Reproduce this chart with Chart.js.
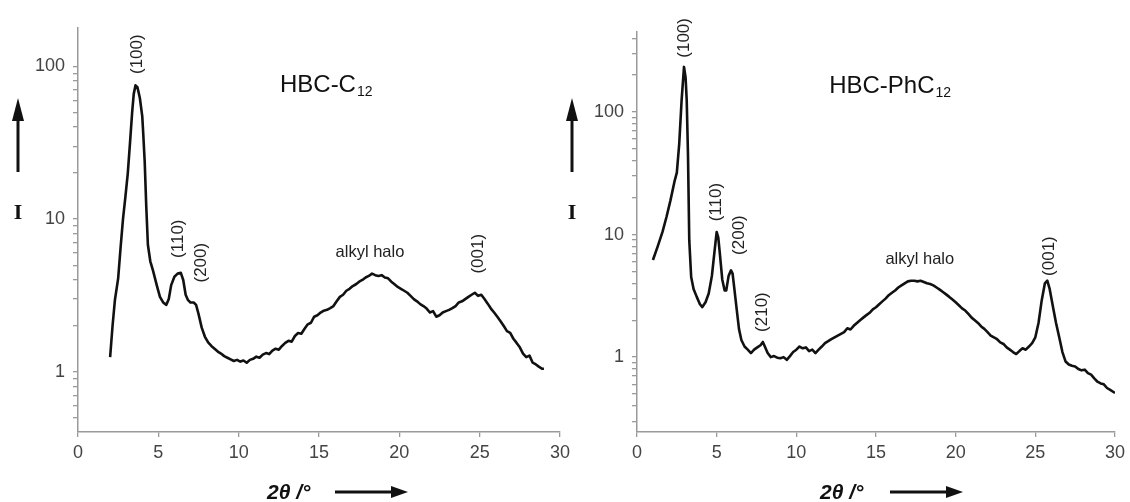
<!DOCTYPE html>
<html><head><meta charset="utf-8">
<script src="https://cdn.jsdelivr.net/npm/chart.js@4.4.1/dist/chart.umd.min.js"></script>
<style>
html,body{margin:0;padding:0;background:#fff;}
#wrap{position:relative;width:1130px;height:502px;overflow:hidden;background:#fff;}
canvas{position:absolute;top:0;}
#c1{left:0;} #c2{left:560px;}
</style></head><body>
<div id="wrap"><canvas id="c1" width="600" height="502" style="width:600px;height:502px"></canvas><canvas id="c2" width="570" height="502" style="width:570px;height:502px"></canvas></div>
<script>
// ---------- DATA ----------
const leftX = [2.0,2.15,2.3,2.5,2.65,2.8,2.95,3.1,3.25,3.37,3.47,3.58,3.7,3.85,4.0,4.05,4.15,4.25,4.35,4.5,4.67,4.9,5.1,5.3,5.5,5.65,5.8,6.0,6.2,6.4,6.55,6.7,6.85,7.0,7.2,7.35,7.5,7.7,7.9,8.1,8.3,8.5,8.7,8.9,9.1,9.3,9.5,9.7,9.9,10.1,10.3,10.5,10.7,10.9,11.1,11.3,11.5,11.7,11.9,12.1,12.3,12.5,12.7,12.9,13.1,13.3,13.5,13.7,13.9,14.1,14.3,14.5,14.7,14.9,15.1,15.3,15.5,15.7,15.9,16.1,16.3,16.5,16.7,16.9,17.1,17.3,17.5,17.7,17.9,18.1,18.3,18.5,18.7,18.9,19.1,19.3,19.5,19.7,19.9,20.1,20.3,20.5,20.7,20.9,21.1,21.3,21.5,21.7,21.9,22.1,22.3,22.5,22.7,22.9,23.1,23.3,23.5,23.7,23.9,24.1,24.3,24.5,24.7,24.9,25.1,25.3,25.5,25.7,25.9,26.1,26.3,26.5,26.7,26.9,27.1,27.3,27.5,27.7,27.9,28.1,28.3,28.5,28.7,28.9,29.0];
const leftY = [1.25,2.0,2.97,4.1,6.5,10,14,20,33,50,66,75,73,62,47,38,24,12,6.8,5.3,4.6,3.7,3.1,2.85,2.75,3.0,3.7,4.2,4.4,4.45,4.0,3.2,2.95,2.85,2.85,2.75,2.4,1.95,1.7,1.56,1.48,1.42,1.36,1.32,1.27,1.24,1.21,1.18,1.2,1.17,1.19,1.15,1.2,1.22,1.26,1.24,1.3,1.33,1.31,1.38,1.42,1.4,1.48,1.55,1.6,1.58,1.72,1.8,1.78,1.92,2.05,2.1,2.3,2.35,2.45,2.52,2.55,2.62,2.7,2.9,3.1,3.2,3.4,3.5,3.65,3.75,3.9,4.0,4.15,4.25,4.4,4.3,4.25,4.3,4.15,4.1,3.9,3.75,3.6,3.5,3.4,3.3,3.15,3.0,2.9,2.78,2.7,2.6,2.45,2.5,2.3,2.35,2.45,2.5,2.55,2.62,2.7,2.85,2.9,3.0,3.1,3.2,3.3,3.15,3.2,3.0,2.8,2.6,2.45,2.3,2.15,2.0,1.85,1.8,1.65,1.55,1.45,1.32,1.25,1.28,1.15,1.12,1.08,1.05,1.05];

const rightX = [1.0,1.3,1.6,1.85,2.1,2.35,2.5,2.65,2.8,2.95,3.05,3.12,3.2,3.28,3.4,3.55,3.75,3.95,4.1,4.3,4.5,4.7,4.85,5.0,5.1,5.2,5.35,5.5,5.6,5.75,5.9,6.0,6.1,6.25,6.4,6.55,6.75,6.95,7.15,7.35,7.55,7.75,7.9,8.05,8.2,8.4,8.6,8.8,9.0,9.2,9.4,9.6,9.8,10.0,10.2,10.4,10.6,10.8,11.0,11.2,11.4,11.6,11.8,12.0,12.2,12.4,12.6,12.8,13.0,13.2,13.4,13.6,13.8,14.0,14.2,14.4,14.6,14.8,15.0,15.2,15.4,15.6,15.8,16.0,16.2,16.4,16.6,16.8,17.0,17.2,17.4,17.6,17.8,18.0,18.2,18.4,18.6,18.8,19.0,19.2,19.4,19.6,19.8,20.0,20.2,20.4,20.6,20.8,21.0,21.2,21.4,21.6,21.8,22.0,22.2,22.4,22.6,22.8,23.0,23.2,23.4,23.6,23.8,24.0,24.2,24.4,24.6,24.8,25.0,25.2,25.4,25.6,25.75,25.9,26.1,26.3,26.5,26.7,26.9,27.1,27.3,27.5,27.7,27.9,28.1,28.3,28.5,28.7,28.9,29.1,29.3,29.5,29.7,30.0];
const rightY = [6.2,8.0,10.5,13.9,19,27,32,55,125,233,190,125,45,9,4.5,3.6,3.1,2.7,2.56,2.8,3.3,4.6,7.0,10.5,9.5,7.0,4.3,3.5,3.5,4.6,5.1,4.8,3.7,2.5,1.7,1.38,1.22,1.15,1.08,1.15,1.2,1.25,1.33,1.2,1.08,1.0,1.02,0.99,0.98,1.0,0.95,1.02,1.1,1.15,1.22,1.18,1.2,1.12,1.15,1.08,1.15,1.22,1.3,1.35,1.4,1.45,1.5,1.55,1.6,1.72,1.68,1.8,1.9,2.0,2.1,2.2,2.3,2.45,2.55,2.7,2.85,3.0,3.2,3.35,3.5,3.7,3.85,4.0,4.15,4.2,4.2,4.15,4.2,4.1,4.0,3.95,3.85,3.7,3.55,3.4,3.25,3.1,2.95,2.8,2.65,2.5,2.4,2.25,2.1,2.0,1.9,1.78,1.7,1.6,1.5,1.45,1.4,1.32,1.28,1.2,1.15,1.1,1.06,1.12,1.18,1.15,1.22,1.3,1.45,1.9,2.9,4.0,4.2,3.6,2.6,1.9,1.45,1.1,0.92,0.87,0.85,0.84,0.8,0.78,0.79,0.74,0.72,0.67,0.63,0.61,0.6,0.56,0.54,0.51];

const xTicks = [0,5,10,15,20,25,30];
const leftYTicks = [0.5,0.6,0.7,0.8,0.9,1,2,3,4,5,6,7,8,9,10,20,30,40,50,60,70,80,90,100];
const rightYTicks = [0.3,0.4,0.5,0.6,0.7,0.8,0.9,1,2,3,4,5,6,7,8,9,10,20,30,40,50,60,70,80,90,100,200,300,400];
const yLabelled = [1,10,100];

const leftPeaks = [
  {text:'(100)', x:3.67, y:120},
  {text:'(110)', x:6.22, y:7.45},
  {text:'(200)', x:7.65, y:5.19},
  {text:'(001)', x:24.9, y:5.94}
];
const rightPeaks = [
  {text:'(100)', x:3.0, y:402},
  {text:'(110)', x:5.0, y:18.4},
  {text:'(200)', x:6.44, y:9.9},
  {text:'(210)', x:7.88, y:2.33},
  {text:'(001)', x:25.85, y:6.67}
];
const leftHalo = {text:'alkyl halo', x:18.17, y:6.03};
const rightHalo = {text:'alkyl halo', x:17.75, y:6.31};
const leftTitle = {main:'HBC-C', sub:'12', x:12.57, y:67.5};
const rightTitle = {main:'HBC-PhC', sub:'12', x:12.06, y:143};

// ---------- DRAWING ----------
const SANS = '"Liberation Sans", Arial, sans-serif';
const SERIF = '"Liberation Serif", "Times New Roman", serif';

function annPlugin(cfg){
  return {
    id:'ann',
    afterDraw(chart){
      const {ctx, chartArea:ca, scales:{x, y}} = chart;
      ctx.save();
      ctx.fillStyle = '#111';
      ctx.strokeStyle = '#111';
      // title
      ctx.textAlign='left'; ctx.textBaseline='alphabetic';
      const tx = x.getPixelForValue(cfg.title.x), ty = y.getPixelForValue(cfg.title.y);
      ctx.font = '24px '+SANS;
      ctx.fillText(cfg.title.main, tx, ty);
      const w = ctx.measureText(cfg.title.main).width;
      ctx.font = '14px '+SANS;
      ctx.fillText(cfg.title.sub, tx + w + 1, ty + 4);
      // peaks
      ctx.font = '17px '+SANS;
      ctx.textAlign='center'; ctx.textBaseline='middle';
      ctx.fillStyle = '#222';
      cfg.peaks.forEach(p=>{
        const px = x.getPixelForValue(p.x), py = y.getPixelForValue(p.y);
        ctx.save(); ctx.translate(px, py); ctx.rotate(-Math.PI/2);
        ctx.fillText(p.text, 0, 0); ctx.restore();
      });
      ctx.font = '16.5px '+SANS;
      ctx.fillText(cfg.halo.text, x.getPixelForValue(cfg.halo.x), y.getPixelForValue(cfg.halo.y));
      // y arrow + I
      ctx.fillStyle='#111';
      const ax = ca.left - cfg.arrowOff;
      ctx.lineWidth = 3;
      ctx.beginPath(); ctx.moveTo(ax, 172); ctx.lineTo(ax, 115); ctx.stroke();
      ctx.beginPath(); ctx.moveTo(ax, 98); ctx.lineTo(ax-6, 121); ctx.lineTo(ax+6, 121); ctx.closePath(); ctx.fill();
      ctx.font = 'bold 22px '+SERIF;
      ctx.textAlign='center'; ctx.textBaseline='alphabetic';
      ctx.fillText('I', ax, 219);
      // x title + arrow
      const xt = ca.left + cfg.xTitleOff;
      ctx.textAlign='left';
      ctx.font = 'italic bold 21px '+SANS;
      ctx.fillText('2\u03B8 /\u00B0', xt, 499);
      const a0 = ca.left + cfg.xArrowOff, a1 = a0 + 73;
      ctx.lineWidth = 3;
      ctx.beginPath(); ctx.moveTo(a0, 492); ctx.lineTo(a1-14, 492); ctx.stroke();
      ctx.beginPath(); ctx.moveTo(a1, 492); ctx.lineTo(a1-17, 486); ctx.lineTo(a1-17, 498); ctx.closePath(); ctx.fill();
      ctx.restore();
    }
  };
}

function makeChart(id, xs, ys, yMin, yMax, yTicks, yWidth, padRight, cfg){
  const pts = xs.map((v,i)=>({x:v, y:ys[i]}));
  return new Chart(document.getElementById(id), {
    type:'line',
    data:{datasets:[{data:pts, borderColor:'#111', borderWidth:2.6, pointRadius:0, tension:0, fill:false, borderJoinStyle:'round'}]},
    options:{
      responsive:false, animation:false, devicePixelRatio:1,
      layout:{padding:{left:0, top:cfg.top, right:padRight, bottom:0}},
      plugins:{legend:{display:false}, tooltip:{enabled:false}, title:{display:false}},
      scales:{
        x:{type:'linear', min:0, max:30,
           afterBuildTicks:(s)=>{ s.ticks = xTicks.map(v=>({value:v})); },
           afterFit:(s)=>{ s.height = 502 - cfg.bottom; },
           grid:{drawOnChartArea:false, drawTicks:true, tickLength:5, color:'#9a9a9a', lineWidth:1.3},
           border:{display:true, color:'#9a9a9a', width:1.5},
           ticks:{autoSkip:false, maxRotation:0, padding:5, color:'#444', font:{family:SANS, size:18}}
        },
        y:{type:'logarithmic', min:yMin, max:yMax,
           afterBuildTicks:(s)=>{ s.ticks = yTicks.map(v=>({value:v})); },
           afterFit:(s)=>{ s.width = yWidth; },
           grid:{drawOnChartArea:false, drawTicks:true, tickLength:5, color:'#9a9a9a', lineWidth:1.3},
           border:{display:true, color:'#9a9a9a', width:1.5},
           ticks:{autoSkip:false, padding:8, color:'#444', font:{family:SANS, size:18},
                  callback:(v)=> yLabelled.includes(v) ? String(v) : ''}
        }
      }
    },
    plugins:[annPlugin(cfg)]
  });
}

makeChart('c1', leftX, leftY, 0.405, 178, leftYTicks, 78, 40,
  {top:28, bottom:432, title:leftTitle, peaks:leftPeaks, halo:leftHalo, arrowOff:60, xTitleOff:189, xArrowOff:257});
makeChart('c2', rightX, rightY, 0.245, 449, rightYTicks, 77, 13,
  {top:32, bottom:432, title:rightTitle, peaks:rightPeaks, halo:rightHalo, arrowOff:65, xTitleOff:183, xArrowOff:253});
</script>
</body></html>
